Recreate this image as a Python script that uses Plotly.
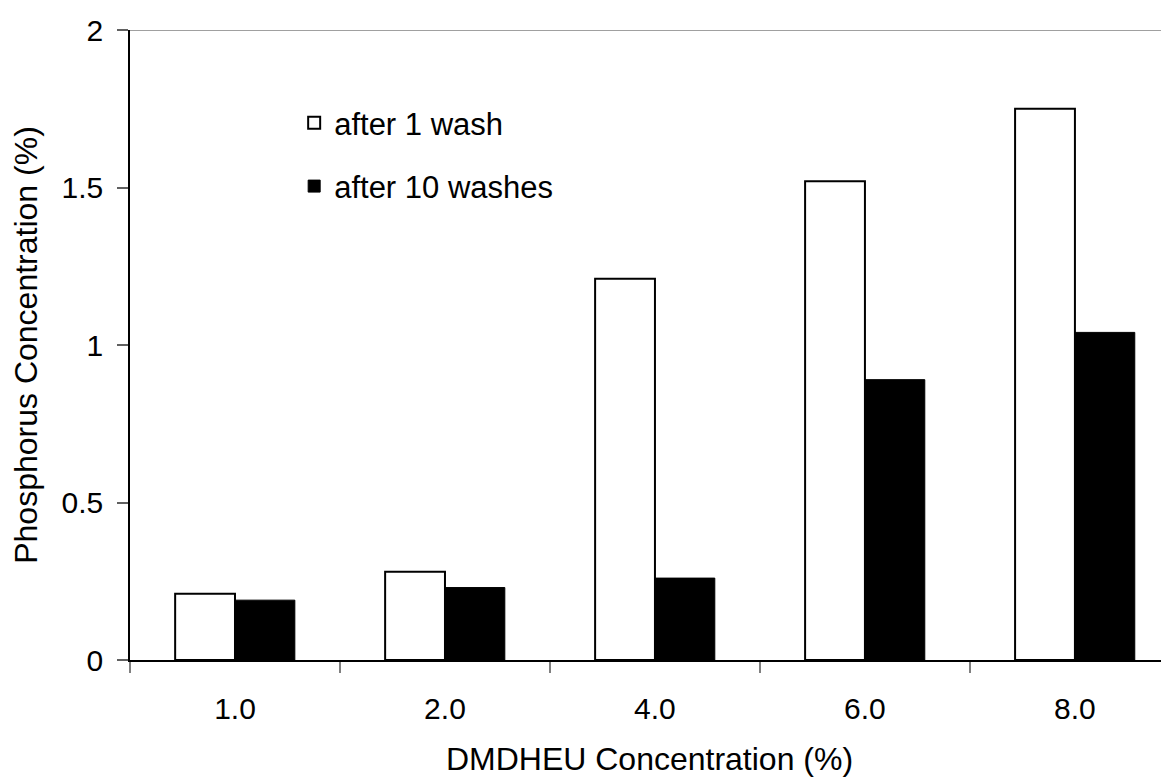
import plotly.graph_objects as go

categories = ["1.0", "2.0", "4.0", "6.0", "8.0"]
after_1_wash = [0.21, 0.28, 1.21, 1.52, 1.75]
after_10_washes = [0.19, 0.23, 0.26, 0.89, 1.04]
y_ticks = [0, 0.5, 1, 1.5, 2]
y_tick_labels = ["0", "0.5", "1", "1.5", "2"]

FONT = "Arial, 'Liberation Sans', sans-serif"

fig = go.Figure()
fig.add_trace(go.Bar(
    x=categories, y=after_1_wash, name="after 1 wash",
    marker=dict(color="white", line=dict(color="black", width=2)),
    legendgroup="a",
))
fig.add_trace(go.Bar(
    x=categories, y=after_10_washes, name="after 10 washes",
    marker=dict(color="black", line=dict(color="black", width=1)),
    legendgroup="b",
))

fig.update_layout(
    width=1161, height=769,
    margin=dict(l=122, r=0, t=22, b=117, autoexpand=False),
    paper_bgcolor="white", plot_bgcolor="white",
    font=dict(family=FONT, size=30, color="black"),
    barmode="group", bargap=0.43, bargroupgap=0,
    showlegend=True,
    legend=dict(x=0.158, y=0.895, xanchor="left", yanchor="top",
                bgcolor="rgba(0,0,0,0)", font=dict(size=31),
                tracegroupgap=20, traceorder="grouped"),
    xaxis=dict(
        type="category", range=[-0.5, 4.448],
        showline=True, linecolor="black", linewidth=1.5,
        ticks="outside", tickson="boundaries", ticklen=11, tickcolor="#808080", tickwidth=1.5,
        showgrid=False, zeroline=False,
        tickfont=dict(size=30),
        ticklabelstandoff=21,
        title=dict(text="DMDHEU Concentration (%)", standoff=26, font=dict(size=32)),
    ),
    yaxis=dict(
        range=[0, 2], tickvals=y_ticks, ticktext=y_tick_labels,
        showline=True, linecolor="black", linewidth=1.5,
        ticks="outside", ticklen=11, tickcolor="#606060", tickwidth=1.5,
        showgrid=False, zeroline=False,
        tickfont=dict(size=30),
        ticklabelstandoff=8,
        title=dict(text="Phosphorus Concentration (%)", standoff=18, font=dict(size=32)),
    ),
    shapes=[dict(type="line", xref="paper", yref="y", x0=0, x1=1, y0=2, y1=2,
                 line=dict(color="#808080", width=1.5))],
)

fig.write_html("out.html")
